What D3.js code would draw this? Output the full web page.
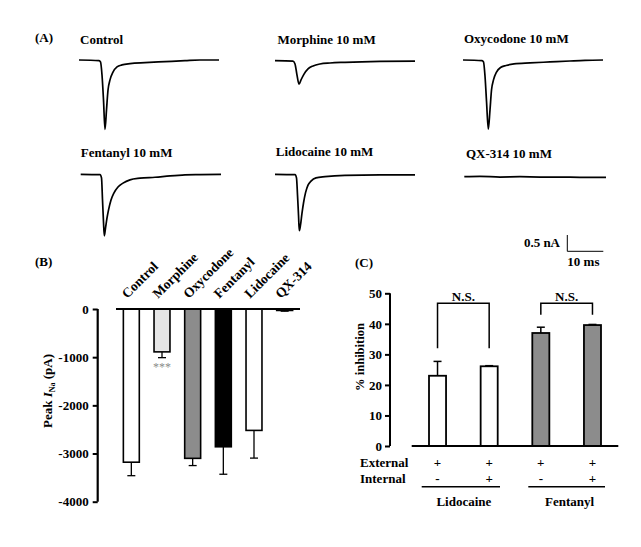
<!DOCTYPE html>
<html><head><meta charset="utf-8">
<script src="https://cdn.jsdelivr.net/npm/d3@7"></script>
<style>
body{margin:0;background:#fff;}
svg{display:block;}
svg text{font-family:"Liberation Serif","Times New Roman",Times,serif !important;font-weight:bold;}
</style></head>
<body>
<svg id="c" width="641" height="547"></svg>
<script>
// ---------- Panel A: current traces (time in ms, current in nA) ----------
const traceTitles = ["Control","Morphine 10 mM","Oxycodone 10 mM","Fentanyl 10 mM","Lidocaine 10 mM","QX-314 10 mM"];
const traceControl = [[0,0],[5.56,-0.02],[5.97,-0.06],[6.39,-0.46],[6.81,-1.23],[7.22,-2.13],[7.64,-1.53],[8.06,-0.92],[8.61,-0.61],[9.44,-0.37],[10.56,-0.21],[11.94,-0.15],[14.17,-0.11],[18.33,-0.08],[23.89,-0.05],[29.44,-0.02],[33.61,0],[38.89,0]];
const traceMorphine = [[0,0],[5.0,-0.01],[5.56,-0.10],[6.11,-0.44],[6.67,-0.72],[7.22,-0.59],[8.06,-0.41],[9.17,-0.25],[10.56,-0.16],[12.5,-0.10],[15.28,-0.07],[19.44,-0.05],[29.17,-0.02],[38.89,-0.01]];
const traceOxycodone = [[0,0],[5.28,-0.02],[5.69,-0.06],[6.11,-0.49],[6.53,-1.26],[7.03,-2.12],[7.5,-1.53],[7.92,-0.92],[8.47,-0.61],[9.31,-0.37],[10.42,-0.23],[11.94,-0.17],[14.17,-0.12],[18.61,-0.09],[24.17,-0.06],[29.72,-0.03],[33.89,-0.01],[38.89,0]];
const traceFentanyl = [[0,0],[5.36,-0.01],[5.78,-0.11],[6.06,-0.79],[6.33,-1.46],[6.56,-1.89],[6.89,-1.65],[7.31,-1.34],[7.72,-1.10],[8.42,-0.79],[9.25,-0.57],[10.36,-0.39],[11.75,-0.27],[13.69,-0.17],[16.47,-0.12],[20.64,-0.09],[24.81,-0.05],[28.97,-0.02],[33.14,-0.01],[38.97,0]];
const traceLidocaine = [[0,0],[5.56,-0.01],[5.97,-0.11],[6.25,-0.63],[6.53,-1.25],[6.75,-1.73],[7.08,-1.56],[7.5,-1.19],[7.92,-0.88],[8.47,-0.57],[9.17,-0.33],[10.0,-0.21],[11.39,-0.11],[13.89,-0.07],[19.44,-0.03],[29.17,-0.02],[38.89,-0.02]];
const traceQX314 = [[0,0],[4.36,0.01],[9.92,-0.01],[15.47,0],[21.03,-0.01],[26.58,-0.01],[32.14,-0.02],[39.36,-0.02]];
const scaleBarI = 0.5;   // nA
const scaleBarT = 10;    // ms

// ---------- Panel B: peak I_Na ----------
const bCategories = ["Control","Morphine","Oxycodone","Fentanyl","Lidocaine","QX-314"];
const bValues = [-3180,-890,-3100,-2860,-2520,-30];
const bErrors = [280,120,150,570,575,15];
const bTicks = [0,-1000,-2000,-3000,-4000];

// ---------- Panel C: % inhibition ----------
const cGroups = ["Lidocaine","Fentanyl"];
const cValues = [23.0,26.1,37.0,39.6];
const cErrors = [4.7,0.2,1.9,0.2];
const cExternal = ["+","+","+","+"];
const cInternal = ["-","+","-","+"];
const cTicks = [0,10,20,30,40,50];

const svg = d3.select("#c");

// ===== Panel A =====
const tScale = d3.scaleLinear().domain([0,10]).range([0,36]);
const iScale = d3.scaleLinear().domain([0,-0.5]).range([0,16.3]);
const traces = [traceControl,traceMorphine,traceOxycodone,traceFentanyl,traceLidocaine,traceQX314];
const traceOrigins = [[79,60],[275,60.7],[463,60],[80.7,174.3],[275,174.3],[464.3,176.7]];
const titlePos = [[80,43.5],[277.5,43.5],[464,42.5],[80.7,157],[275.8,156],[466,158]];
svg.append("text").attr("x",35).attr("y",42).attr("font-size",13).text("(A)");
const line = d3.line().x(d=>tScale(d[0])).y(d=>iScale(d[1])).curve(d3.curveMonotoneX);
traces.forEach((tr,i)=>{
  svg.append("text").attr("x",titlePos[i][0]).attr("y",titlePos[i][1]).attr("font-size",13).text(traceTitles[i]);
  svg.append("g").attr("transform",`translate(${traceOrigins[i][0]},${traceOrigins[i][1]})`)
    .append("path").attr("d",line(tr)).attr("fill","none").attr("stroke","#000").attr("stroke-width",1.7).attr("stroke-linejoin","round");
});
// scale bar
const sb = svg.append("g").attr("transform","translate(567.3,251.3)");
sb.append("path").attr("d",`M0,${-(iScale(-scaleBarI))}V0H${tScale(scaleBarT)}`).attr("fill","none").attr("stroke","#000").attr("stroke-width",1);
svg.append("text").attr("x",560).attr("y",246.7).attr("text-anchor","end").attr("font-size",13).text(scaleBarI+" nA");
svg.append("text").attr("x",567.3).attr("y",266).attr("font-size",13).text(scaleBarT+" ms");

// ===== Panel B =====
svg.append("text").attr("x",35).attr("y",266).attr("font-size",13).text("(B)");
const yB = d3.scaleLinear().domain([-4000,0]).range([501.7,309]);
const xB = d3.scaleBand().domain(bCategories).range([116,300]).paddingInner(0.48).paddingOuter(0.24);
const axB = svg.append("g").attr("transform","translate(97.7,0)")
  .call(d3.axisLeft(yB).tickValues(bTicks).tickSize(5).tickPadding(4).tickFormat(d=>String(d)));
axB.select(".domain").attr("stroke-width",2.2).attr("d","M0,309V501.7");
axB.selectAll(".tick line").attr("stroke-width",2);
axB.selectAll("text").attr("font-size",13);
const bFill = ["#ffffff","#e6e6e6","#8c8c8c","#000000","#ffffff","#000000"];
bValues.forEach((v,i)=>{
  const cx = xB(bCategories[i])+xB.bandwidth()/2;
  svg.append("line").attr("x1",cx).attr("x2",cx).attr("y1",yB(v)).attr("y2",yB(v-bErrors[i])).attr("stroke","#000").attr("stroke-width",1.3);
  svg.append("line").attr("x1",cx-4).attr("x2",cx+4).attr("y1",yB(v-bErrors[i])).attr("y2",yB(v-bErrors[i])).attr("stroke","#000").attr("stroke-width",1.3);
});
svg.selectAll(".barB").data(bValues).enter().append("rect")
  .attr("x",(d,i)=>xB(bCategories[i])).attr("width",xB.bandwidth())
  .attr("y",yB(0)).attr("height",d=>yB(d)-yB(0))
  .attr("fill",(d,i)=>bFill[i]).attr("stroke","#000").attr("stroke-width",1.6);
svg.append("line").attr("x1",116).attr("x2",300).attr("y1",yB(0)).attr("y2",yB(0)).attr("stroke","#000").attr("stroke-width",2);
bCategories.forEach((c,i)=>{
  const cx = xB(c)+xB.bandwidth()/2;
  svg.append("text").attr("transform",`translate(${cx-4},299) rotate(-45)`).attr("font-size",13.5).text(c);
});
svg.append("text").attr("x",xB("Morphine")+xB.bandwidth()/2).attr("y",yB(bValues[1]-bErrors[1])+13)
  .attr("text-anchor","middle").attr("font-size",12).attr("fill","#8a8a8a").style("font-weight","normal").text("***");
const ylB = svg.append("text").attr("transform","translate(52,391) rotate(-90)").attr("text-anchor","middle").attr("font-size",13);
ylB.append("tspan").text("Peak ");
ylB.append("tspan").attr("font-style","italic").text("I");
ylB.append("tspan").attr("font-size",8).attr("dy",3).text("Na");
ylB.append("tspan").attr("dy",-3).text(" (pA)");

// ===== Panel C =====
svg.append("text").attr("x",355).attr("y",267).attr("font-size",13).text("(C)");
const yC = d3.scaleLinear().domain([0,50]).range([446,293.3]);
const barIds = cValues.map((d,i)=>i);
const xC = d3.scaleBand().domain(barIds).range([411.7,618.3]).paddingInner(0.67).paddingOuter(0.335);
const axC = svg.append("g").attr("transform","translate(390,0)")
  .call(d3.axisLeft(yC).tickValues(cTicks).tickSize(5).tickPadding(3));
axC.select(".domain").attr("stroke-width",2).attr("d","M0,293.3V446");
axC.selectAll(".tick line").attr("stroke-width",2);
axC.selectAll("text").attr("font-size",13);
const cFill = ["#ffffff","#ffffff","#8c8c8c","#8c8c8c"];
cValues.forEach((v,i)=>{
  const cx = xC(i)+xC.bandwidth()/2;
  svg.append("line").attr("x1",cx).attr("x2",cx).attr("y1",yC(v)).attr("y2",yC(v+cErrors[i])).attr("stroke","#000").attr("stroke-width",1.5);
  svg.append("line").attr("x1",cx-4).attr("x2",cx+4).attr("y1",yC(v+cErrors[i])).attr("y2",yC(v+cErrors[i])).attr("stroke","#000").attr("stroke-width",1.5);
});
svg.selectAll(".barC").data(cValues).enter().append("rect")
  .attr("x",(d,i)=>xC(i)).attr("width",xC.bandwidth())
  .attr("y",d=>yC(d)).attr("height",d=>yC(0)-yC(d))
  .attr("fill",(d,i)=>cFill[i]).attr("stroke","#000").attr("stroke-width",1.8);
svg.append("line").attr("x1",411.7).attr("x2",618.3).attr("y1",yC(0)).attr("y2",yC(0)).attr("stroke","#000").attr("stroke-width",2);
const brackets = [[0,1,348.3],[2,3,314.7]];
brackets.forEach(b=>{
  const x1 = xC(b[0])+xC.bandwidth()/2, x2 = xC(b[1])+xC.bandwidth()/2;
  svg.append("path").attr("d",`M${x1},${b[2]}V303.3H${x2}V${b[2]}`).attr("fill","none").attr("stroke","#000").attr("stroke-width",1.5);
  svg.append("text").attr("x",(x1+x2)/2).attr("y",300.5).attr("text-anchor","middle").attr("font-size",13).text("N.S.");
});
svg.append("text").attr("x",360).attr("y",467.3).attr("font-size",13).text("External");
svg.append("text").attr("x",360).attr("y",483).attr("font-size",13).text("Internal");
cExternal.forEach((s,i)=>{
  svg.append("text").attr("x",xC(i)+xC.bandwidth()/2).attr("y",467.3).attr("text-anchor","middle").attr("font-size",13).text(s);
  svg.append("text").attr("x",xC(i)+xC.bandwidth()/2).attr("y",483).attr("text-anchor","middle").attr("font-size",13).text(cInternal[i]);
});
const groupSpans = [[421.7,500],[528.3,605]];
cGroups.forEach((g,i)=>{
  svg.append("line").attr("x1",groupSpans[i][0]).attr("x2",groupSpans[i][1]).attr("y1",486.7).attr("y2",486.7).attr("stroke","#000").attr("stroke-width",1.5);
  svg.append("text").attr("x",(groupSpans[i][0]+groupSpans[i][1])/2+3).attr("y",506).attr("text-anchor","middle").attr("font-size",13).text(g);
});
svg.append("text").attr("transform","translate(364,357) rotate(-90)").attr("text-anchor","middle").attr("font-size",12.5).text("% inhibition");
</script>
</body></html>
